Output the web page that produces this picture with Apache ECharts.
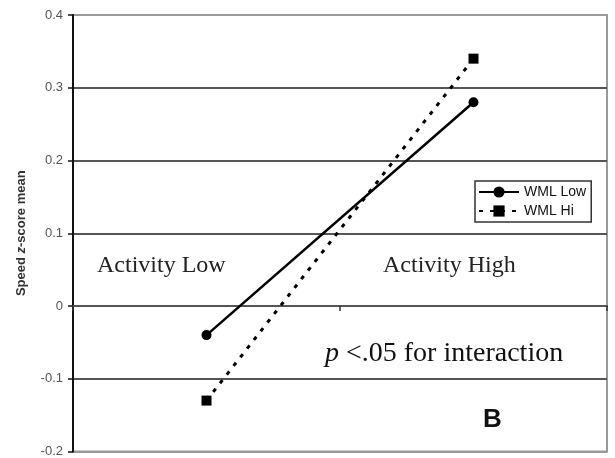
<!DOCTYPE html>
<html>
<head>
<meta charset="utf-8">
<script src="https://cdn.jsdelivr.net/npm/echarts@6/dist/echarts.min.js"></script>
<style>html,body{margin:0;padding:0;background:#fff}#c{width:615px;height:458px}</style>
</head>
<body>
<div id="c"></div>
<script>
var categories = ['Activity Low', 'Activity High'];
var wmlLow = [-0.04, 0.28];
var wmlHi = [-0.13, 0.34];
var seriesNames = ['WML Low', 'WML Hi'];
var annotation = 'p <.05 for interaction';
var panelLetter = 'B';

var chart = echarts.init(document.getElementById('c'));
chart.setOption({
  animation: false,
  backgroundColor: '#fff',
  grid: { left: 73, right: 8, top: 15, bottom: 6, show: true, borderColor: '#999', borderWidth: 2 },
  xAxis: {
    type: 'category',
    data: categories,
    boundaryGap: true,
    axisLine: { onZero: true, lineStyle: { color: '#555', width: 2 } },
    axisTick: { show: true, length: 5, lineStyle: { color: '#333', width: 1.5 } },
    axisLabel: { show: false },
    splitLine: { show: false }
  },
  yAxis: {
    type: 'value',
    min: -0.2, max: 0.4, interval: 0.1,
    name: '{a|Speed }{b|z}{a|-score mean}',
    nameLocation: 'middle',
    nameGap: 45,
    nameTextStyle: {
      rich: {
        a: { fontFamily: 'Liberation Sans, Arial', fontSize: 13, fontWeight: 'bold', color: '#333' },
        b: { fontFamily: 'Liberation Sans, Arial', fontSize: 13, fontWeight: 'bold', color: '#333', fontStyle: 'italic' }
      }
    },
    axisLine: { show: true, lineStyle: { color: '#111', width: 2 } },
    axisTick: { show: true, length: 5, lineStyle: { color: '#111', width: 1.5 } },
    axisLabel: {
      fontFamily: 'Liberation Sans, Arial', fontSize: 13, color: '#555', margin: 10,
      formatter: function (v) { return Math.abs(v) < 1e-9 ? '0' : v.toFixed(1); }
    },
    splitLine: { show: true, lineStyle: { color: ['#999', '#555', '#555', '#555', '#555', '#555', '#999'], width: 2 } }
  },
  legend: {
    orient: 'vertical',
    left: 475, top: 181,
    padding: [4, 5, 4, 3],
    itemGap: 5,
    itemWidth: 40, itemHeight: 14,
    borderColor: '#333', borderWidth: 1.5,
    backgroundColor: '#fff',
    textStyle: { fontFamily: 'Liberation Sans, Arial', fontSize: 14, color: '#111' },
    data: seriesNames
  },
  series: [
    {
      name: seriesNames[0], type: 'line', data: wmlLow,
      symbol: 'circle', symbolSize: 10,
      lineStyle: { color: '#000', width: 2.5 },
      itemStyle: { color: '#000' }
    },
    {
      name: seriesNames[1], type: 'line', data: wmlHi,
      symbol: 'rect', symbolSize: 10,
      lineStyle: { color: '#000', width: 3, type: [4, 7] },
      itemStyle: { color: '#000' }
    }
  ],
  graphic: [
    { type: 'text', left: 97, top: 254, style: { text: categories[0], font: '24px "Liberation Serif", "Times New Roman", serif', fill: '#222' } },
    { type: 'text', left: 383, top: 254, style: { text: categories[1], font: '24px "Liberation Serif", "Times New Roman", serif', fill: '#222' } },
    { type: 'text', left: 325, top: 340, style: {
        text: '{i|' + annotation.slice(0, 1) + '}{r| ' + annotation.slice(2) + '}',
        rich: {
          i: { font: 'italic 28px "Liberation Serif", "Times New Roman", serif', fill: '#111' },
          r: { font: '28px "Liberation Serif", "Times New Roman", serif', fill: '#111' }
        }
      } },
    { type: 'text', left: 483, top: 407, style: { text: panelLetter, font: 'bold 26px "Liberation Sans", Arial, sans-serif', fill: '#111' } }
  ]
});
</script>
</body>
</html>
